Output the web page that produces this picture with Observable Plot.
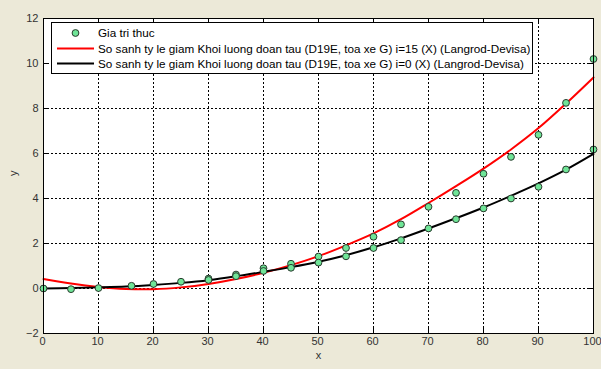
<!DOCTYPE html>
<html>
<head>
<meta charset="utf-8">
<script src="https://cdn.jsdelivr.net/npm/d3@7"></script>
<script src="https://cdn.jsdelivr.net/npm/@observablehq/plot@0.6"></script>
<style>
  html, body { margin: 0; padding: 0; background: #ece9d8; }
  #chart { width: 601px; height: 369px; }
</style>
</head>
<body>
<div id="chart"></div>
<script>
// Axis ticks
const xTicks = [0, 10, 20, 30, 40, 50, 60, 70, 80, 90, 100];
const yTicks = [-2, 0, 2, 4, 6, 8, 10, 12];

// Measured values ("Gia tri thuc")
const measX = [0, 5, 10, 16, 20, 25, 30, 30, 35, 35, 40, 40, 45, 45, 50, 50, 55, 55, 60, 60,
               65, 65, 70, 70, 75, 75, 80, 80, 85, 85, 90, 90, 95, 95, 100, 100];
const measY = [0.0, -0.03, 0.02, 0.12, 0.2, 0.3, 0.44, 0.38, 0.62, 0.55, 0.9, 0.78, 1.1, 0.92, 1.42, 1.15, 1.8, 1.43, 2.3, 1.8,
               2.85, 2.15, 3.63, 2.67, 4.25, 3.08, 5.1, 3.56, 5.85, 4.0, 6.83, 4.52, 8.25, 5.29, 10.2, 6.18];

// Fitted curves (Langrod-Devisa)
const curveX = [0, 5, 10, 15, 20, 25, 30, 35, 40, 45, 50, 55, 60, 65, 70, 75, 80, 85, 90, 95, 100];
const redY   = [0.42, 0.22, 0.07, -0.02, -0.03, 0.05, 0.2, 0.42, 0.7, 1.04, 1.44, 1.92, 2.45, 3.08, 3.8, 4.55, 5.33, 6.18, 7.13, 8.22, 9.38];
const blackY = [0.0, 0.02, 0.05, 0.09, 0.16, 0.25, 0.37, 0.54, 0.74, 0.95, 1.19, 1.48, 1.83, 2.23, 2.67, 3.12, 3.6, 4.12, 4.67, 5.28, 5.98];

const legendLabels = [
  "Gia tri thuc",
  "So sanh ty le giam Khoi luong doan tau (D19E, toa xe G) i=15 (X) (Langrod-Devisa)",
  "So sanh ty le giam Khoi luong doan tau (D19E, toa xe G) i=0 (X) (Langrod-Devisa)"
];

const measured = measX.map((x, i) => ({x, y: measY[i]}));
const redLine = curveX.map((x, i) => ({x, y: redY[i]}));
const blackLine = curveX.map((x, i) => ({x, y: blackY[i]}));

const W = 601, H = 369, mL = 43, mR = 8, mT = 18, mB = 36;
const innerW = W - mL - mR, innerH = H - mT - mB;
const tickLen = 5;
const font = "'Liberation Sans', Arial, sans-serif";
const dotFill = "#6fe597";

const chart = Plot.plot({
  width: W, height: H,
  marginLeft: mL, marginRight: mR, marginTop: mT, marginBottom: mB,
  style: { background: "#ece9d8", fontFamily: font, fontSize: "11px", overflow: "visible" },
  x: { domain: [0, 100] },
  y: { domain: [-2, 12] },
  marks: [
    Plot.frame({ fill: "white", stroke: null }),
    // dotted grid
    Plot.ruleX(xTicks.slice(1, -1), { x: d => d, stroke: "black", strokeWidth: 1, strokeDasharray: "2,2" }),
    Plot.ruleY(yTicks.slice(1, -1), { y: d => d, stroke: "black", strokeWidth: 1, strokeDasharray: "2,2" }),
    // inward ticks on all four sides
    Plot.tickX(xTicks, { x: d => d, insetTop: innerH - tickLen, stroke: "black" }),
    Plot.tickX(xTicks, { x: d => d, insetBottom: innerH - tickLen, stroke: "black" }),
    Plot.tickY(yTicks, { y: d => d, insetRight: innerW - tickLen, stroke: "black" }),
    Plot.tickY(yTicks, { y: d => d, insetLeft: innerW - tickLen, stroke: "black" }),
    Plot.axisX(xTicks, { tickSize: 0, tickPadding: 4, label: null, color: "#333", dx: -1 }),
    Plot.axisY(yTicks, { tickSize: 0, tickPadding: 5, label: null, color: "#333" }),
    // curves
    Plot.line(redLine, { x: "x", y: "y", stroke: "#ff0000", strokeWidth: 2, curve: "catmull-rom" }),
    Plot.line(blackLine, { x: "x", y: "y", stroke: "black", strokeWidth: 2, curve: "catmull-rom" }),
    // measured points
    Plot.dot(measured, { x: "x", y: "y", r: 3.4, fill: dotFill, stroke: "#2a3a2e", strokeWidth: 1 }),
    Plot.frame({ stroke: "black" }),
    // axis titles
    Plot.text(["x"], { frameAnchor: "bottom", dy: 25, fill: "#333" }),
    Plot.text(["y"], { frameAnchor: "left", dx: -30, rotate: -90, fill: "#333" })
  ]
});

document.getElementById("chart").appendChild(chart);

// Legend box in the upper-left corner of the axes
const svg = d3.select(chart);
const lg = svg.append("g")
  .attr("font-family", font).attr("font-size", 11.7).attr("text-anchor", "start");
lg.append("rect")
  .attr("x", 51.5).attr("y", 22.5).attr("width", 481).attr("height", 51)
  .attr("fill", "white").attr("stroke", "black");
const rows = [33, 48.5, 63.5];
lg.append("circle").attr("cx", 75.5).attr("cy", rows[0]).attr("r", 3.4)
  .attr("fill", dotFill).attr("stroke", "#2a3a2e");
lg.append("line").attr("x1", 57).attr("x2", 94).attr("y1", rows[1]).attr("y2", rows[1])
  .attr("stroke", "#ff0000").attr("stroke-width", 2);
lg.append("line").attr("x1", 57).attr("x2", 94).attr("y1", rows[2]).attr("y2", rows[2])
  .attr("stroke", "black").attr("stroke-width", 2);
legendLabels.forEach((t, i) => {
  lg.append("text").attr("x", 98).attr("y", rows[i]).attr("dy", "0.35em")
    .attr("text-anchor", "start").attr("fill", "black").text(t);
});
</script>
</body>
</html>
